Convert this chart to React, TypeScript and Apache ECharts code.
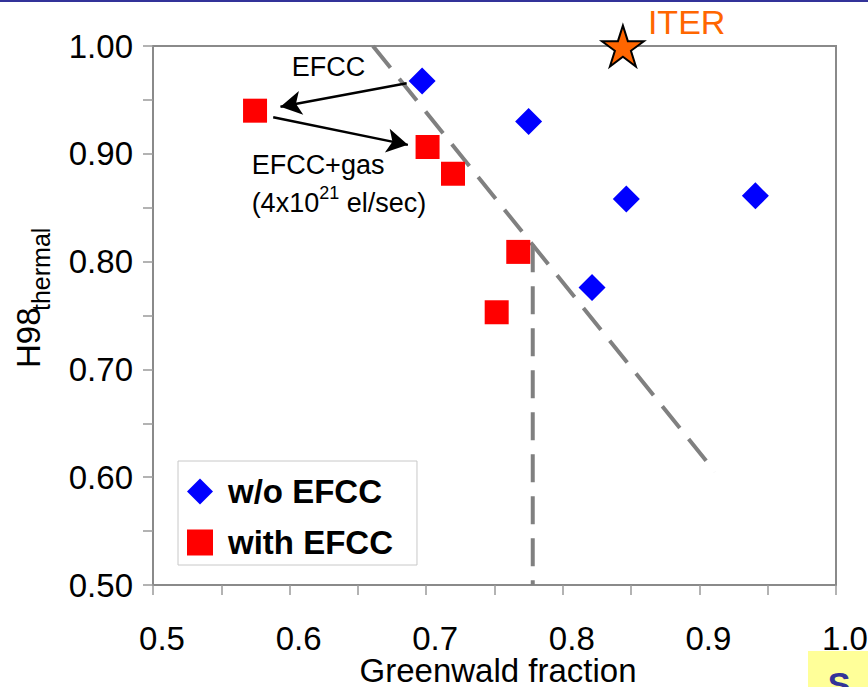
import React, { useEffect, useRef } from "react";
import * as echarts from "echarts";

// ---- data ----
const xTicks = [0.5, 0.6, 0.7, 0.8, 0.9, 1.0];
const yTicks = [0.5, 0.6, 0.7, 0.8, 0.9, 1.0];
const woEfcc: number[][] = [
  [0.697, 0.9675],
  [0.775, 0.93],
  [0.8465, 0.858],
  [0.941, 0.861],
  [0.8214, 0.776],
];
const withEfcc: number[][] = [
  [0.5747, 0.94],
  [0.701, 0.9063],
  [0.7196, 0.8815],
  [0.7674, 0.809],
  [0.7516, 0.753],
];
const iterPoint: number[][] = [[0.844, 1.0]];
const trendLine: number[][] = [
  [0.661, 1.0],
  [0.9114, 0.6051],
];
const limitLine: number[][] = [
  [0.778, 0.816],
  [0.778, 0.5],
];
const arrows: number[][][] = [
  [
    [0.6857, 0.9654],
    [0.5933, 0.9437],
  ],
  [
    [0.588, 0.9339],
    [0.6866, 0.9083],
  ],
];
const notes = [
  { pos: [0.6015, 0.9808], text: "EFCC" },
  { pos: [0.5722, 0.8724], text: "{a|EFCC+gas}\n{a|(4x10}{s|21}{a| el/sec)}" },
];

const FONT = "'Liberation Sans', Arial, sans-serif";
const STAR =
  "path://M0,-100 L22.45,-30.9 L95.1,-30.9 L36.33,11.8 L58.8,80.9 L0,38.2 L-58.8,80.9 L-36.33,11.8 L-95.1,-30.9 L-22.45,-30.9 Z";

const isMajor = (v: number) => Math.abs(Math.round(v * 10) - v * 10) < 1e-6;

export default function App() {
  const ref = useRef<HTMLDivElement>(null);
  useEffect(() => {
    if (!ref.current) return;
    const chart = echarts.init(ref.current, null, { renderer: "svg" });
    const axisCommon = {
      type: "value" as const,
      min: 0.5,
      max: 1.0,
      interval: 0.05,
      splitLine: { show: false },
      axisLine: { show: true, lineStyle: { color: "#8a8a8a", width: 2 } },
      axisTick: { show: true, length: 10, lineStyle: { color: "#9a9a9a", width: 1.5 } },
    };
    chart.setOption({
      animation: false,
      backgroundColor: "#ffffff",
      textStyle: { fontFamily: FONT },
      grid: {
        left: 153,
        top: 46,
        right: 32,
        bottom: 102,
        show: true,
        borderColor: "#8a8a8a",
        borderWidth: 2,
        backgroundColor: "transparent",
        containLabel: false,
        outerBoundsMode: "none",
      },
      xAxis: {
        ...axisCommon,
        name: "Greenwald fraction",
        nameLocation: "middle",
        nameGap: 70,
        nameMoveOverlap: false,
        nameTextStyle: {
          fontSize: 33,
          lineHeight: 30,
          color: "#000",
          fontFamily: FONT,
          padding: [0, 0, 0, 7],
        },
        axisLabel: {
          fontSize: 33,
          lineHeight: 30,
          color: "#000",
          fontFamily: FONT,
          margin: 38,
          padding: [0, 0, 0, 18],
          formatter: (v: number) =>
            isMajor(v) && xTicks.some((t) => Math.abs(t - v) < 1e-6) ? v.toFixed(1) : "",
        },
      },
      yAxis: {
        ...axisCommon,
        axisLabel: {
          fontSize: 33,
          color: "#000",
          fontFamily: FONT,
          margin: 20,
          formatter: (v: number) =>
            isMajor(v) && yTicks.some((t) => Math.abs(t - v) < 1e-6) ? v.toFixed(2) : "",
        },
      },
      legend: {
        left: 178,
        top: 461,
        orient: "vertical",
        data: ["w/o EFCC", "with EFCC"],
        itemWidth: 26,
        itemHeight: 26,
        itemGap: 18,
        padding: [14, 24, 6, 9],
        borderColor: "#c8c8c8",
        borderWidth: 1,
        backgroundColor: "#ffffff",
        textStyle: {
          fontSize: 33,
          fontWeight: "bold",
          color: "#000",
          fontFamily: FONT,
          padding: [0, 0, 0, 10],
        },
      },
      graphic: [
        { type: "rect", shape: { x: 0, y: 0, width: 868, height: 2 }, style: { fill: "#333399" } },
        {
          type: "rect",
          shape: { x: 808, y: 651, width: 60, height: 36 },
          style: { fill: "#ffff99" },
        },
        {
          type: "text",
          x: 839,
          y: 667,
          style: {
            text: "S",
            font: `bold 34px ${FONT}`,
            fill: "#333399",
            align: "center",
            verticalAlign: "top",
          },
        },
        {
          type: "text",
          x: 28.5,
          y: 368,
          rotation: Math.PI / 2,
          style: {
            text: "H98",
            font: `33px ${FONT}`,
            fill: "#000",
            align: "left",
            verticalAlign: "middle",
          },
        },
        {
          type: "text",
          x: 41,
          y: 311,
          rotation: Math.PI / 2,
          style: {
            text: "thermal",
            font: `25px ${FONT}`,
            fill: "#000",
            align: "left",
            verticalAlign: "middle",
          },
        },
      ],
      series: [
        {
          name: "trend",
          type: "line",
          data: trendLine,
          symbol: "none",
          silent: true,
          lineStyle: { color: "#808080", width: 4, type: [28, 14] },
          z: 1,
        },
        {
          name: "limit",
          type: "line",
          data: limitLine,
          symbol: "none",
          silent: true,
          lineStyle: { color: "#808080", width: 4, type: [28, 14] },
          z: 1,
        },
        {
          name: "w/o EFCC",
          type: "scatter",
          data: woEfcc,
          symbol: "diamond",
          symbolSize: 27,
          itemStyle: { color: "#0000ff", opacity: 1 },
          z: 3,
        },
        {
          name: "with EFCC",
          type: "scatter",
          data: withEfcc,
          symbol: "rect",
          symbolSize: 24,
          itemStyle: { color: "#ff0000", opacity: 1 },
          z: 3,
        },
        {
          name: "ITER",
          type: "scatter",
          data: iterPoint,
          symbol: STAR,
          symbolSize: [42, 41],
          itemStyle: { color: "#ff6600", borderColor: "#000", borderWidth: 2, opacity: 1 },
          label: {
            show: true,
            formatter: "ITER",
            position: "right",
            distance: 3,
            offset: [0, -24],
            fontSize: 34,
            color: "#ff6600",
            fontFamily: FONT,
          },
          z: 4,
        },
        {
          name: "notes",
          type: "scatter",
          symbolSize: 0,
          silent: true,
          itemStyle: { opacity: 1 },
          data: notes.map((n) => ({ value: n.pos, label: { formatter: n.text } })),
          label: {
            show: true,
            position: "right",
            distance: 0,
            fontSize: 27,
            color: "#000",
            fontFamily: FONT,
            lineHeight: 38,
            rich: {
              a: { fontSize: 27, lineHeight: 38, color: "#000", fontFamily: FONT },
              s: { fontSize: 18, lineHeight: 25, verticalAlign: "top", color: "#000", fontFamily: FONT },
            },
          },
          markLine: {
            silent: true,
            symbol: ["none", "arrow"],
            symbolSize: [18, 21],
            label: { show: false },
            lineStyle: { color: "#000", width: 2.5, type: "solid", opacity: 1 },
            data: arrows.map(([a, b]) => [{ coord: a }, { coord: b }]),
          },
          z: 5,
        },
      ],
    });
    return () => chart.dispose();
  }, []);
  return (
    <div
      ref={ref}
      style={{ position: "fixed", left: 0, top: 0, width: 868, height: 687, background: "#fff" }}
    />
  );
}
